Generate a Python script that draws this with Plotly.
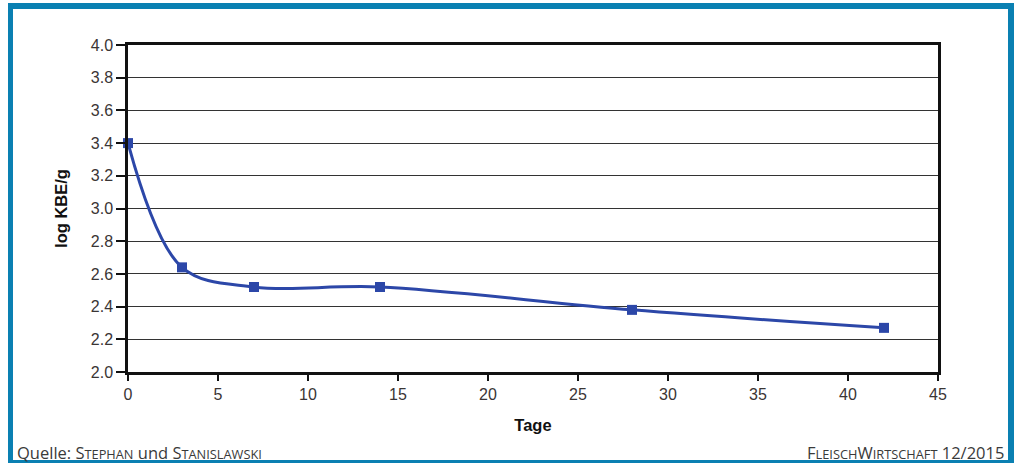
import plotly.graph_objects as go

days = [0, 3, 7, 14, 28, 42]
log_kbe = [3.40, 2.64, 2.52, 2.52, 2.38, 2.27]
x_ticks = [0, 5, 10, 15, 20, 25, 30, 35, 40, 45]
y_ticks = [2.0, 2.2, 2.4, 2.6, 2.8, 3.0, 3.2, 3.4, 3.6, 3.8, 4.0]

W, H = 1016, 463
L, R, T, B = 128, 938, 45, 372

def px(x):
    return (x - L) / (R - L)

def py(y):
    return (B - y) / (B - T)

fig = go.Figure()
fig.add_trace(go.Scatter(
    x=days, y=log_kbe, mode="lines+markers",
    line=dict(color="#2c47a8", width=3, shape="spline", smoothing=1.0),
    marker=dict(symbol="square", size=10, color="#2c47a8"),
    showlegend=False, cliponaxis=False,
))

tickfont = dict(family="Liberation Sans, Arial, sans-serif", size=16, color="#3a3535")
titlefont = dict(family="Liberation Sans, Arial, sans-serif", size=16.5, color="#111")
fig.update_xaxes(
    range=[0, 45], tickvals=x_ticks, ticktext=[str(v) for v in x_ticks],
    ticks="outside", ticklen=6, tickwidth=1.5, tickcolor="#111",
    showline=True, linecolor="#111", linewidth=2.5, mirror=True,
    showgrid=False, zeroline=False, tickfont=tickfont,
    title=dict(text="<b>Tage</b>", font=titlefont, standoff=18),
    automargin=False,
)
fig.update_yaxes(
    range=[2.0, 4.0], tickvals=y_ticks, ticktext=[f"{v:.1f}" for v in y_ticks],
    ticks="outside", ticklen=9, tickwidth=1.5, tickcolor="#111",
    showline=True, linecolor="#111", linewidth=2.5, mirror=True,
    showgrid=True, gridcolor="#333", gridwidth=1, zeroline=False, tickfont=tickfont,
    title=dict(text="<b>log KBE/g</b>", font=titlefont, standoff=20),
    automargin=False,
)

border = "#0a80b2"
rects = [(8, 3, 13, 463), (8, 3, 1014, 9), (1008, 3, 1014, 463), (8, 460, 1014, 463)]
shapes = []
for x0, y0, x1, y1 in rects:
    shapes.append(dict(type="rect", xref="paper", yref="paper",
                       x0=px(x0), x1=px(x1), y0=py(y1), y1=py(y0),
                       fillcolor=border, line=dict(width=0), layer="above"))

srcfont = dict(family="Open Sans, Noto Sans, sans-serif", size=16.5, color="#3a3a3a")
def sc(word, small=12.8):
    return word[0] + f"<span style='font-size:{small}px'>{word[1:].upper()}</span>"

annotations = [
    dict(text="Quelle: " + sc("Stephan") + " und " + sc("Stanislawski"),
         xref="paper", yref="paper", x=px(15), y=py(452), xanchor="left", yanchor="middle",
         showarrow=False, font=srcfont),
    dict(text=sc("Fleisch") + sc("Wirtschaft") + " 12/2015",
         xref="paper", yref="paper", x=px(1006), y=py(452), xanchor="right", yanchor="middle",
         showarrow=False, font=srcfont),
]

fig.update_layout(
    width=W, height=H,
    margin=dict(l=L, r=W - R, t=T, b=H - B, autoexpand=False),
    paper_bgcolor="white", plot_bgcolor="white",
    shapes=shapes, annotations=annotations,
)

fig.write_html("out.html", config={"displayModeBar": False},
               post_script="document.body.style.margin='0';document.body.style.overflow='hidden';")
